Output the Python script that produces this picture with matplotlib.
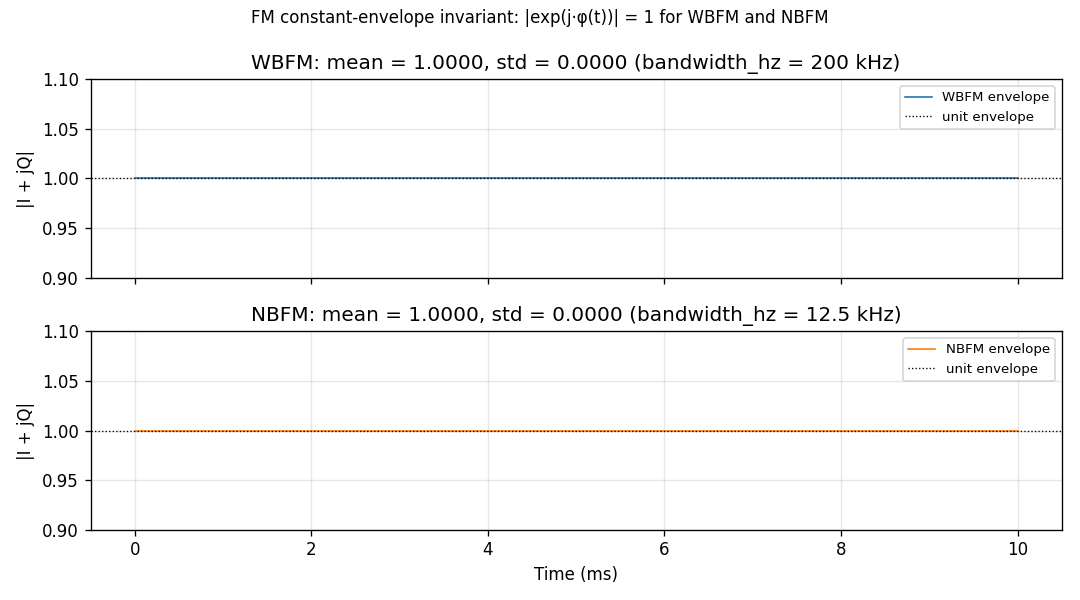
import matplotlib
matplotlib.use("Agg")
import matplotlib.pyplot as plt

time_ms = [0.0, 2.0, 4.0, 6.0, 8.0, 10.0]
wbfm_env = [1.0, 1.0, 1.0, 1.0, 1.0, 1.0]
nbfm_env = [1.0, 1.0, 1.0, 1.0, 1.0, 1.0]
titles = ["WBFM: mean = 1.0000, std = 0.0000 (bandwidth_hz = 200 kHz)",
          "NBFM: mean = 1.0000, std = 0.0000 (bandwidth_hz = 12.5 kHz)"]
labels = ["WBFM envelope", "NBFM envelope"]
colors = ["#1f77b4", "#ff7f0e"]
yticks = [0.90, 0.95, 1.00, 1.05, 1.10]

fig, axes = plt.subplots(2, 1, figsize=(9.0, 5.0), dpi=120, sharex=True)
fig.subplots_adjust(left=0.084, right=0.983, top=0.868, bottom=0.117, hspace=0.27)
fig.suptitle("FM constant-envelope invariant: |exp(j·φ(t))| = 1 for WBFM and NBFM",
             fontsize=10, y=0.985)

for ax, env, title, lab, c in zip(axes, [wbfm_env, nbfm_env], titles, labels, colors):
    ax.plot(time_ms, env, color=c, lw=1.0, label=lab)
    ax.axhline(1.0, color="black", ls=":", lw=0.8, label="unit envelope")
    ax.set_ylim(0.90, 1.10)
    ax.set_yticks(yticks)
    ax.set_ylabel("|I + jQ|")
    ax.set_title(title, fontsize=12)
    ax.grid(True, alpha=0.3)
    ax.legend(loc="upper right", fontsize=8)

axes[1].set_xlabel("Time (ms)")
fig.savefig("out.png", dpi=120)
